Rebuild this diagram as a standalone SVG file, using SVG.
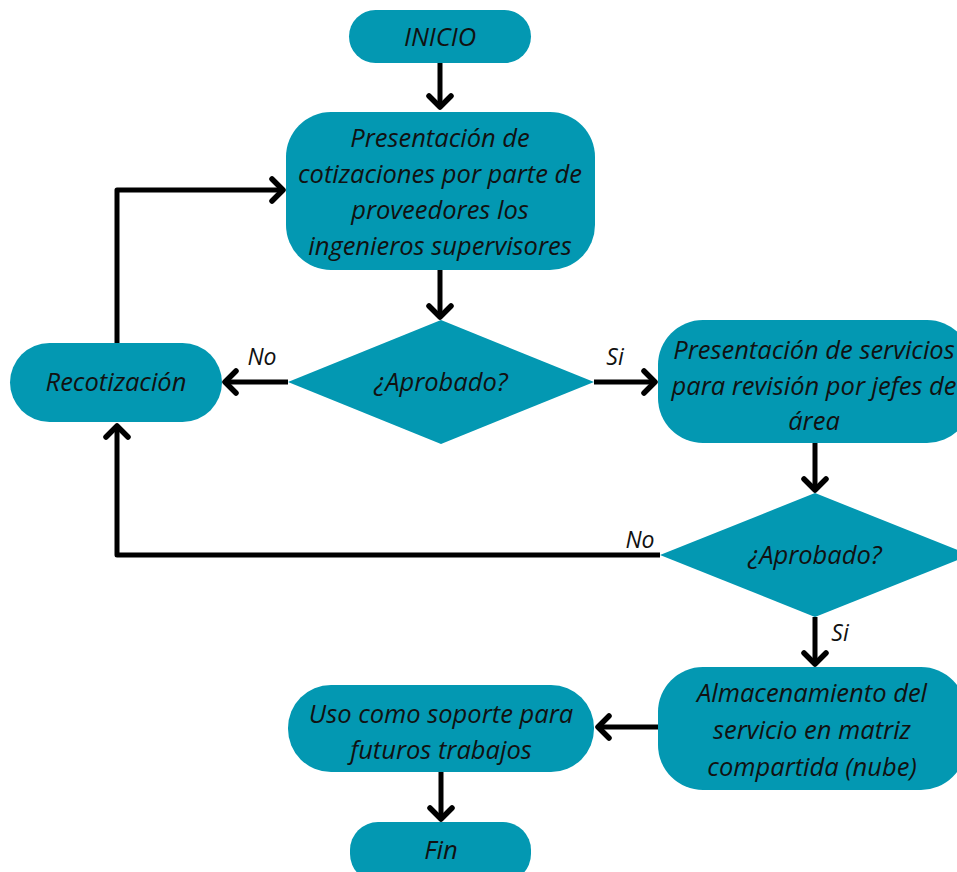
<svg xmlns="http://www.w3.org/2000/svg" width="957" height="872" viewBox="0 0 957 872">
<style>
.n{fill:#0398b2}
.t{font-family:"Open Sans","DejaVu Sans",sans-serif;font-style:italic;font-size:25.5px;fill:#111;text-anchor:middle}
.l{font-family:"Open Sans","DejaVu Sans",sans-serif;font-style:italic;font-size:23px;fill:#111;text-anchor:middle}
.c{fill:none;stroke:#000;stroke-width:5;stroke-linejoin:round}
</style>
<defs>
<marker id="ah" markerUnits="userSpaceOnUse" viewBox="-16 -14 20 28" refX="0" refY="0" markerWidth="20" markerHeight="28" orient="auto">
<path d="M-12,-11 L-1,0 L-12,11" fill="none" stroke="#000" stroke-width="5.5" stroke-linecap="round" stroke-linejoin="round"/>
</marker>
</defs>
<rect width="957" height="872" fill="#fff"/>
<g id="connectors">
<path class="c" d="M440,63 V108" marker-end="url(#ah)"/>
<path class="c" d="M440,270 V318" marker-end="url(#ah)"/>
<path class="c" d="M288,382 H224" marker-end="url(#ah)"/>
<path class="c" d="M594,382 H656" marker-end="url(#ah)"/>
<path class="c" d="M117,343 V190 H284" marker-end="url(#ah)"/>
<path class="c" d="M815,443 V491" marker-end="url(#ah)"/>
<path class="c" d="M660,555 H117 V425" marker-end="url(#ah)"/>
<path class="c" d="M815,617 V665" marker-end="url(#ah)"/>
<path class="c" d="M658,727 H597" marker-end="url(#ah)"/>
<path class="c" d="M441,772 V820" marker-end="url(#ah)"/>
<text class="l" x="262" y="365">No</text>
<text class="l" x="615" y="365">Si</text>
<text class="l" x="640" y="548">No</text>
<text class="l" x="840" y="641">Si</text>
</g>
<g id="inicio">
<rect class="n" x="349" y="10" width="182" height="53" rx="26.5"/>
<text class="t" x="440" y="46">INICIO</text>
</g>
<g id="presentacion-cotizaciones">
<rect class="n" x="286" y="112" width="309" height="158" rx="45"/>
<text class="t" x="440" y="147">Presentación de</text>
<text class="t" x="440" y="183">cotizaciones por parte de</text>
<text class="t" x="440" y="219">proveedores los</text>
<text class="t" x="440" y="255">ingenieros supervisores</text>
</g>
<g id="aprobado1">
<polygon class="n" points="441,320 594,382 441,444 288,382"/>
<text class="t" x="441" y="391">¿Aprobado?</text>
</g>
<g id="recotizacion">
<rect class="n" x="10" y="343" width="212" height="79" rx="39.5"/>
<text class="t" x="116" y="391">Recotización</text>
</g>
<g id="presentacion-servicios">
<rect class="n" x="658" y="320" width="314" height="123" rx="45"/>
<text class="t" x="814" y="359">Presentación de servicios</text>
<text class="t" x="814" y="395">para revisión por jefes de</text>
<text class="t" x="814" y="430">área</text>
</g>
<g id="aprobado2">
<polygon class="n" points="815,493 970,555 815,617 660,555"/>
<text class="t" x="815" y="564">¿Aprobado?</text>
</g>
<g id="almacenamiento">
<rect class="n" x="658" y="667" width="308" height="123" rx="45"/>
<text class="t" x="812" y="702">Almacenamiento del</text>
<text class="t" x="812" y="739">servicio en matriz</text>
<text class="t" x="812" y="776">compartida (nube)</text>
</g>
<g id="uso">
<rect class="n" x="288" y="685" width="306" height="87" rx="43"/>
<text class="t" x="441" y="723">Uso como soporte para</text>
<text class="t" x="441" y="759">futuros trabajos</text>
</g>
<g id="fin">
<rect class="n" x="350" y="822" width="181" height="60" rx="28"/>
<text class="t" x="441" y="859">Fin</text>
</g>
</svg>
